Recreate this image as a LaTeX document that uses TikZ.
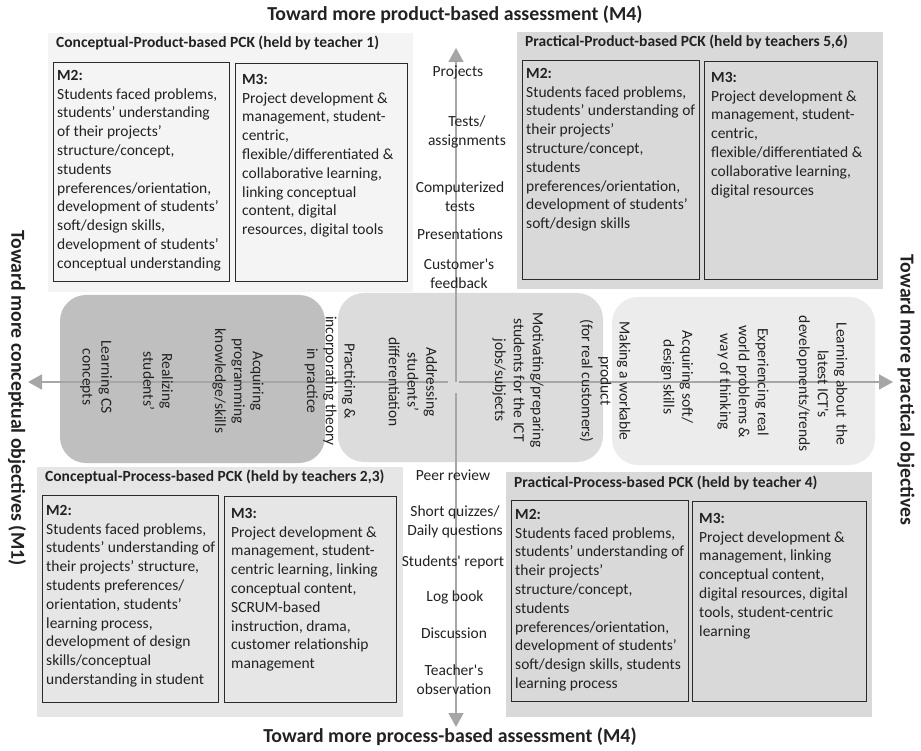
\documentclass[tikz,border=0pt]{standalone}
\usepackage{fontspec}
\setmainfont{Carlito}
\usetikzlibrary{arrows.meta}
\definecolor{txt}{HTML}{222222}
\definecolor{bgTL}{HTML}{F4F4F4}
\definecolor{bgTR}{HTML}{D9D9D9}
\definecolor{bgBL}{HTML}{E6E6E6}
\definecolor{bgBR}{HTML}{D9D9D9}
\definecolor{midL}{HTML}{BFBFBF}
\definecolor{midM}{HTML}{DCDCDC}
\definecolor{midR}{HTML}{ECECEC}
\definecolor{axis}{HTML}{A6A6A6}
\definecolor{frame}{HTML}{2A2A2A}
\tikzset{
  bgbox/.style={anchor=north west, inner sep=0pt, outer sep=0pt, draw=none},
  mbox/.style={anchor=north west, inner sep=0pt, outer sep=0pt, draw=frame, line width=0.9pt},
  band/.style={anchor=north west, inner sep=0pt, outer sep=0pt, rounded corners=26pt},
  body/.style={font=\fontsize{15.5}{18.8}\selectfont, text=txt, inner sep=0pt},
  mtext/.style={body, anchor=north west, align=left},
  qtitle/.style={font=\fontsize{15.5}{18}\selectfont\bfseries, text=txt, inner sep=0pt, anchor=west},
  big/.style={font=\fontsize{19.8}{23}\selectfont\bfseries, text=txt, inner sep=0pt},
  rot/.style={body, rotate=-90, align=center},
  ass/.style={body, align=center},
  axisline/.style={draw=axis, line width=1.8pt},
  axisarrow/.style={axisline, -{Triangle[length=14pt,width=15pt]}}
}
\begin{document}
\begin{tikzpicture}[x=1pt,y=-1pt]
\useasboundingbox (0,0) rectangle (921,751);
\fill[white] (0,0) rectangle (921,751);

% quadrant backgrounds
\node[bgbox, fill=bgTL, minimum width=365, minimum height=259] (tl) at (48,33) {};
\node[bgbox, fill=bgTR, minimum width=366, minimum height=257] (tr) at (517,32) {};
\node[bgbox, fill=bgBL, minimum width=366, minimum height=250] (bl) at (37,467) {};
\node[bgbox, fill=bgBR, minimum width=366, minimum height=245] (br) at (506,472) {};

% M boxes
\node[mbox, fill=bgTL, minimum width=176, minimum height=219] (tlm2) at (53,62) {};
\node[mbox, fill=bgTL, minimum width=172, minimum height=218] (tlm3) at (235,63) {};
\node[mbox, fill=bgTR, minimum width=177, minimum height=219] (trm2) at (522,60) {};
\node[mbox, fill=bgTR, minimum width=173, minimum height=218] (trm3) at (704,61) {};
\node[mbox, fill=bgBL, minimum width=176, minimum height=207] (blm2) at (42,495) {};
\node[mbox, fill=bgBL, minimum width=172, minimum height=206] (blm3) at (224,496) {};
\node[mbox, fill=bgBR, minimum width=177, minimum height=201] (brm2) at (511,500) {};
\node[mbox, fill=bgBR, minimum width=174, minimum height=200] (brm3) at (692,501) {};

% middle bands
\node[band, fill=midL, minimum width=265, minimum height=168] (bandL) at (60,295) {};
\node[band, fill=midM, minimum width=265, minimum height=169] (bandM) at (338,293) {};
\node[band, fill=midR, minimum width=263, minimum height=168] (bandR) at (612,297) {};

% axes
\coordinate (c0) at (456,382);
\coordinate (cb) at (456,393);
\coordinate (cl) at (448,382);
\coordinate (cr) at (459,382);
\coordinate (top) at (456,48);
\coordinate (bot) at (456,727);
\coordinate (lft) at (28,382);
\coordinate (rgt) at (893,382);
\draw[axisarrow] (c0) -- (top);
\draw[axisarrow] (cb) -- (bot);
\draw[axisarrow] (cl) -- (lft);
\draw[axisarrow] (cr) -- (rgt);

% big axis titles
\node[big] (ttop) at (455,15) {Toward more product-based assessment (M4)};
\node[big] (tbot) at (450,737) {Toward more process-based assessment (M4)};
\node[big, rotate=-90] (tleft) at (17,398) {Toward more conceptual objectives (M1)};
\node[big, rotate=-90] (tright) at (906,390) {Toward more practical objectives};

% quadrant titles
\node[qtitle] (tlt) at (56,43) {Conceptual-Product-based PCK (held by teacher 1)};
\node[qtitle] (trt) at (525,42) {Practical-Product-based PCK (held by teachers 5,6)};
\node[qtitle] (blt) at (45,477) {Conceptual-Process-based PCK (held by teachers 2,3)};
\node[qtitle] (brt) at (514,483) {Practical-Process-based PCK (held by teacher 4)};

% M texts
\node[mtext] (tlm2t) at (57,70) {\textbf{M2:}\\Students faced problems,\\students’ understanding\\of their projects’\\structure/concept,\\students\\preferences/orientation,\\development of students’\\soft/design skills,\\development of students’\\conceptual understanding};
\node[mtext] (tlm3t) at (242,74) {\textbf{M3:}\\Project development \&\\management, student-\\centric,\\flexible/differentiated \&\\collaborative learning,\\linking conceptual\\content, digital\\resources, digital tools};
\node[mtext] (trm2t) at (526,68) {\textbf{M2:}\\Students faced problems,\\students’ understanding of\\their projects’\\structure/concept,\\students\\preferences/orientation,\\development of students’\\soft/design skills};
\node[mtext] (trm3t) at (711,72) {\textbf{M3:}\\Project development \&\\management, student-\\centric,\\flexible/differentiated \&\\collaborative learning,\\digital resources};
\node[mtext] (blm2t) at (46,505) {\textbf{M2:}\\Students faced problems,\\students’ understanding of\\their projects’ structure,\\students preferences/\\orientation, students’\\learning process,\\development of design\\skills/conceptual\\understanding in student};
\node[mtext] (blm3t) at (231,508) {\textbf{M3:}\\Project development \&\\management, student-\\centric learning, linking\\conceptual content,\\SCRUM-based\\instruction, drama,\\customer relationship\\management};
\node[mtext] (brm2t) at (515,509) {\textbf{M2:}\\Students faced problems,\\students’ understanding of\\their projects’\\structure/concept,\\students\\preferences/orientation,\\development of students’\\soft/design skills, students\\learning process};
\node[mtext] (brm3t) at (699,513) {\textbf{M3:}\\Project development \&\\management, linking\\conceptual content,\\digital resources, digital\\tools, student-centric\\learning};

% rotated objective texts
\node[rot] (o1) at (96,377) {Learning CS\\concepts};
\node[rot] (o2) at (158,381) {Realizing\\students’};
\node[rot] (o3) at (238,381) {Acquiring\\programming\\knowledge/skills};
\node[rot] (o4) at (330,381) {Practicing \&\\incorporating theory\\in practice};
\node[rot] (o5) at (413,382) {Addressing\\students’\\differentiation};
\node[rot] (o6) at (518,380) {Motivating/preparing\\students for the ICT\\jobs/subjects};
\node[rot] (o7) at (605,381) {Making a workable\\product\\(for real customers)};
\node[rot] (o8) at (677,377) {Acquiring soft/\\design skills};
\node[rot] (o9) at (743,382) {Experiencing real\\world problems \&\\way of thinking};
\node[rot] (o10) at (822,384) {Learning about~ the\\latest ICT\textquotesingle s\\developments/trends};

% assessment texts
\node[ass] (a1) at (458,72) {Projects};
\node[ass] (a2) at (467,132) {Tests/\\assignments};
\node[ass] (a3) at (460,197) {Computerized\\tests};
\node[ass] (a4) at (460,234) {Presentations};
\node[ass] (a5) at (459,274) {Customer\textquotesingle s\\feedback};
\node[ass] (b1) at (453,475) {Peer review};
\node[ass] (b2) at (455,522) {Short quizzes/\\Daily questions};
\node[ass] (b3) at (453,562) {Students\textquotesingle\ report};
\node[ass] (b4) at (455,597) {Log book};
\node[ass] (b5) at (454,633) {Discussion};
\node[ass] (b6) at (454,680) {Teacher\textquotesingle s\\observation};
\end{tikzpicture}
\end{document}
